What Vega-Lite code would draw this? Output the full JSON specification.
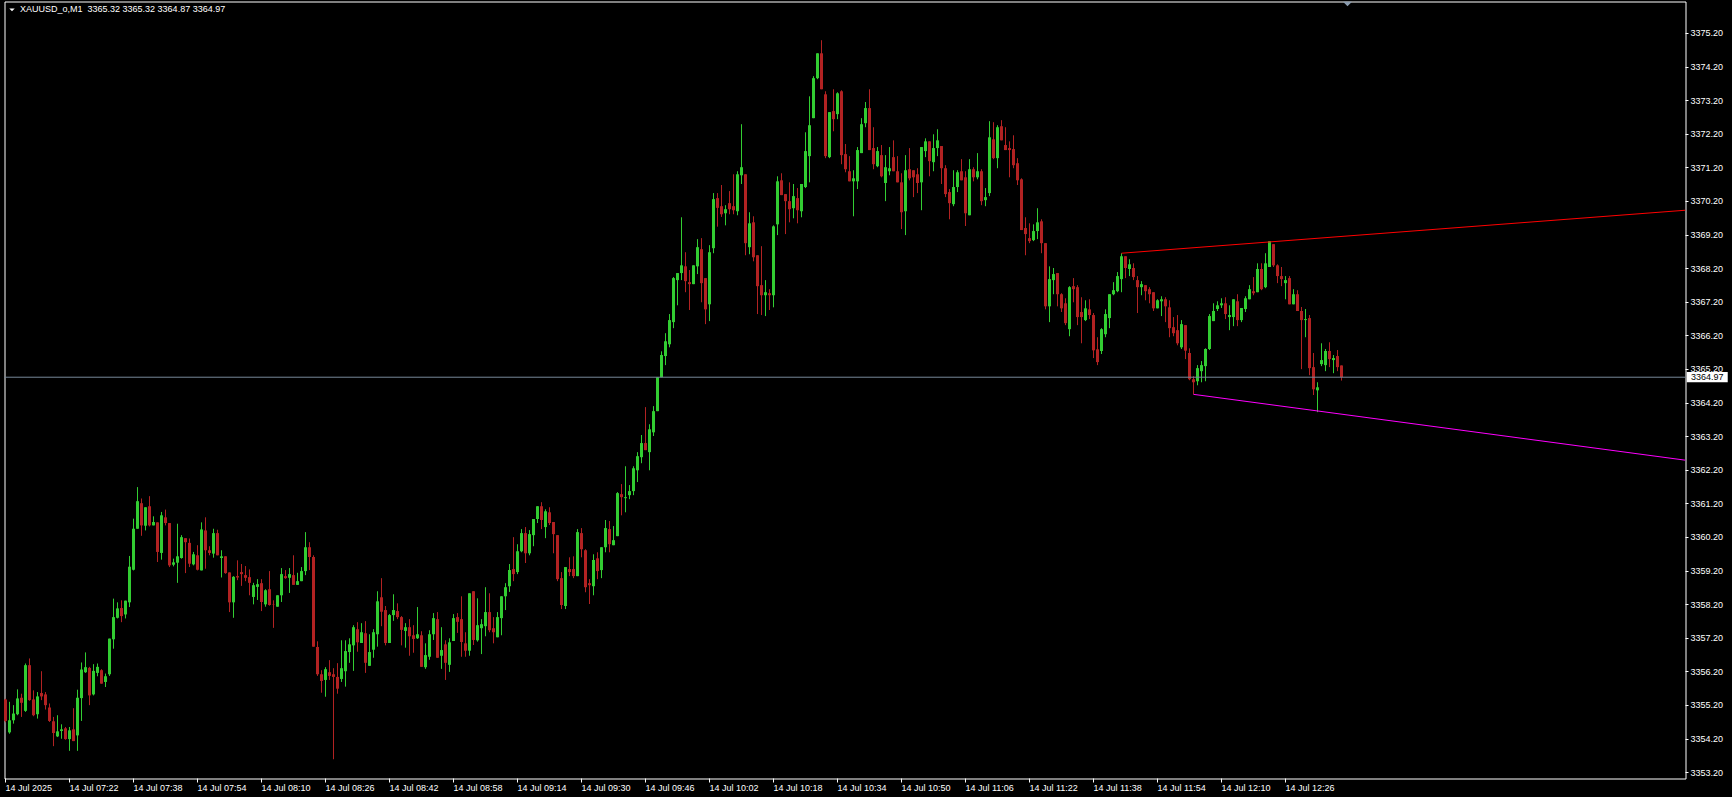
{
"$schema":"https://vega.github.io/schema/vega-lite/v6.json",
"width":1681,"height":777,
"autosize":{"type":"none"},
"padding":{"left":4.5,"top":1.5,"right":46.5,"bottom":18.5},
"background":"#000000",
"config":{
 "view":{"stroke":"#FFFFFF","strokeWidth":1},
 "scale":{"continuousPadding":0},
 "axis":{"labelOverlap":false,"domain":false,"grid":false,"translate":0,"tickColor":"#FFFFFF","tickWidth":1,"labelColor":"#FFFFFF","labelFont":"Liberation Sans","labelFontSize":9,"labelFlush":false,"labelBound":false,"labelSeparation":0},
 "axisX":{"tickSize":4,"labelAlign":"left","labelBaseline":"top","labelPadding":1},
 "axisY":{"tickSize":3,"labelAlign":"left","labelBaseline":"middle","labelPadding":2}
},
"datasets":{
"candles":[
{"m":6,"o":3355.38,"h":3355.40,"l":3354.70,"c":3354.74},
{"m":7,"o":3354.40,"h":3355.31,"l":3354.36,"c":3354.76},
{"m":8,"o":3354.76,"h":3355.21,"l":3354.66,"c":3354.96},
{"m":9,"o":3354.94,"h":3355.68,"l":3354.91,"c":3355.41},
{"m":10,"o":3355.43,"h":3355.55,"l":3354.86,"c":3355.28},
{"m":11,"o":3355.04,"h":3356.45,"l":3355.01,"c":3356.40},
{"m":12,"o":3356.40,"h":3356.60,"l":3355.34,"c":3355.36},
{"m":13,"o":3355.38,"h":3355.65,"l":3354.88,"c":3354.91},
{"m":14,"o":3354.94,"h":3355.60,"l":3354.81,"c":3355.47},
{"m":15,"o":3355.57,"h":3356.22,"l":3355.36,"c":3355.47},
{"m":16,"o":3355.53,"h":3355.60,"l":3355.08,"c":3355.21},
{"m":17,"o":3355.14,"h":3355.26,"l":3354.71,"c":3354.74},
{"m":18,"o":3354.73,"h":3354.86,"l":3353.99,"c":3354.38},
{"m":19,"o":3354.28,"h":3354.91,"l":3354.26,"c":3354.43},
{"m":20,"o":3354.44,"h":3354.64,"l":3354.21,"c":3354.49},
{"m":21,"o":3354.52,"h":3354.56,"l":3354.18,"c":3354.20},
{"m":22,"o":3354.20,"h":3354.56,"l":3353.85,"c":3354.46},
{"m":23,"o":3354.49,"h":3355.12,"l":3354.14,"c":3354.14},
{"m":24,"o":3354.31,"h":3355.67,"l":3353.85,"c":3355.43},
{"m":25,"o":3355.42,"h":3356.48,"l":3354.74,"c":3356.27},
{"m":26,"o":3356.19,"h":3356.78,"l":3356.17,"c":3356.34},
{"m":27,"o":3356.32,"h":3356.35,"l":3355.21,"c":3355.50},
{"m":28,"o":3355.53,"h":3356.43,"l":3355.50,"c":3356.23},
{"m":29,"o":3356.17,"h":3356.45,"l":3356.07,"c":3356.35},
{"m":30,"o":3356.25,"h":3356.28,"l":3355.85,"c":3355.85},
{"m":31,"o":3355.90,"h":3356.15,"l":3355.75,"c":3356.07},
{"m":32,"o":3356.13,"h":3357.19,"l":3356.08,"c":3357.19},
{"m":33,"o":3357.17,"h":3358.38,"l":3356.89,"c":3357.83},
{"m":34,"o":3357.81,"h":3358.27,"l":3357.79,"c":3358.09},
{"m":35,"o":3358.10,"h":3358.33,"l":3357.68,"c":3357.86},
{"m":36,"o":3357.91,"h":3358.32,"l":3357.79,"c":3358.32},
{"m":37,"o":3358.27,"h":3359.65,"l":3358.13,"c":3359.33},
{"m":38,"o":3359.24,"h":3360.76,"l":3359.22,"c":3360.46},
{"m":39,"o":3360.46,"h":3361.70,"l":3360.46,"c":3361.28},
{"m":40,"o":3361.22,"h":3361.36,"l":3360.25,"c":3360.56},
{"m":41,"o":3360.55,"h":3361.10,"l":3360.41,"c":3361.10},
{"m":42,"o":3361.13,"h":3361.43,"l":3360.53,"c":3360.56},
{"m":43,"o":3360.56,"h":3360.83,"l":3360.56,"c":3360.66},
{"m":44,"o":3360.65,"h":3360.65,"l":3359.47,"c":3359.77},
{"m":45,"o":3359.74,"h":3360.96,"l":3359.54,"c":3360.86},
{"m":46,"o":3360.80,"h":3361.03,"l":3360.56,"c":3360.63},
{"m":47,"o":3360.63,"h":3360.63,"l":3359.32,"c":3359.37},
{"m":48,"o":3359.39,"h":3359.57,"l":3359.34,"c":3359.46},
{"m":49,"o":3359.45,"h":3360.61,"l":3358.85,"c":3359.64},
{"m":50,"o":3359.59,"h":3360.27,"l":3359.57,"c":3360.21},
{"m":51,"o":3360.18,"h":3360.18,"l":3359.14,"c":3360.06},
{"m":52,"o":3360.04,"h":3360.17,"l":3359.32,"c":3359.42},
{"m":53,"o":3359.40,"h":3359.77,"l":3359.37,"c":3359.70},
{"m":54,"o":3359.67,"h":3359.97,"l":3359.22,"c":3359.24},
{"m":55,"o":3359.22,"h":3360.65,"l":3359.22,"c":3360.44},
{"m":56,"o":3360.41,"h":3360.80,"l":3359.27,"c":3359.82},
{"m":57,"o":3359.82,"h":3359.94,"l":3359.67,"c":3359.74},
{"m":58,"o":3359.72,"h":3360.46,"l":3359.60,"c":3360.33},
{"m":59,"o":3360.33,"h":3360.43,"l":3359.67,"c":3359.67},
{"m":60,"o":3359.59,"h":3359.82,"l":3359.01,"c":3359.64},
{"m":61,"o":3359.64,"h":3359.64,"l":3359.12,"c":3359.14},
{"m":62,"o":3359.16,"h":3359.16,"l":3357.98,"c":3358.27},
{"m":63,"o":3358.27,"h":3359.05,"l":3357.81,"c":3359.03},
{"m":64,"o":3359.05,"h":3359.52,"l":3358.93,"c":3359.01},
{"m":65,"o":3359.17,"h":3359.41,"l":3358.76,"c":3359.11},
{"m":66,"o":3359.08,"h":3359.35,"l":3358.90,"c":3359.00},
{"m":67,"o":3359.02,"h":3359.25,"l":3358.48,"c":3358.85},
{"m":68,"o":3358.43,"h":3358.85,"l":3358.21,"c":3358.78},
{"m":69,"o":3358.73,"h":3358.96,"l":3358.34,"c":3358.81},
{"m":70,"o":3358.84,"h":3358.96,"l":3358.01,"c":3358.28},
{"m":71,"o":3358.21,"h":3358.66,"l":3358.14,"c":3358.63},
{"m":72,"o":3358.66,"h":3359.20,"l":3358.17,"c":3358.19},
{"m":73,"o":3358.21,"h":3358.33,"l":3357.51,"c":3358.20},
{"m":74,"o":3358.14,"h":3358.48,"l":3358.14,"c":3358.48},
{"m":75,"o":3358.48,"h":3359.29,"l":3358.28,"c":3359.11},
{"m":76,"o":3359.05,"h":3359.23,"l":3358.97,"c":3358.99},
{"m":77,"o":3359.00,"h":3359.29,"l":3358.55,"c":3359.11},
{"m":78,"o":3359.08,"h":3359.67,"l":3358.79,"c":3358.79},
{"m":79,"o":3358.79,"h":3359.15,"l":3358.79,"c":3358.90},
{"m":80,"o":3358.90,"h":3359.32,"l":3358.90,"c":3359.20},
{"m":81,"o":3359.20,"h":3360.36,"l":3359.08,"c":3359.91},
{"m":82,"o":3359.91,"h":3360.06,"l":3359.23,"c":3359.62},
{"m":83,"o":3359.62,"h":3359.67,"l":3356.95,"c":3356.95},
{"m":84,"o":3356.94,"h":3357.11,"l":3356.08,"c":3356.13},
{"m":85,"o":3356.13,"h":3356.25,"l":3355.58,"c":3355.93},
{"m":86,"o":3355.96,"h":3356.34,"l":3355.46,"c":3356.28},
{"m":87,"o":3356.19,"h":3356.55,"l":3355.96,"c":3356.08},
{"m":88,"o":3356.13,"h":3356.31,"l":3353.60,"c":3356.05},
{"m":89,"o":3356.05,"h":3356.46,"l":3355.55,"c":3355.70},
{"m":90,"o":3355.99,"h":3357.14,"l":3355.90,"c":3356.31},
{"m":91,"o":3356.22,"h":3357.14,"l":3355.76,"c":3356.82},
{"m":92,"o":3356.79,"h":3357.20,"l":3356.47,"c":3357.02},
{"m":93,"o":3356.99,"h":3357.59,"l":3356.23,"c":3357.53},
{"m":94,"o":3357.47,"h":3357.68,"l":3356.80,"c":3357.08},
{"m":95,"o":3357.06,"h":3357.65,"l":3357.06,"c":3357.38},
{"m":96,"o":3357.35,"h":3357.71,"l":3356.17,"c":3356.47},
{"m":97,"o":3356.38,"h":3357.32,"l":3356.38,"c":3356.79},
{"m":98,"o":3356.86,"h":3357.47,"l":3356.62,"c":3357.38},
{"m":99,"o":3357.32,"h":3358.60,"l":3356.95,"c":3358.30},
{"m":100,"o":3358.42,"h":3358.99,"l":3357.56,"c":3357.99},
{"m":101,"o":3358.04,"h":3358.16,"l":3356.99,"c":3357.06},
{"m":102,"o":3357.06,"h":3357.92,"l":3357.06,"c":3357.89},
{"m":103,"o":3357.89,"h":3358.51,"l":3357.72,"c":3358.04},
{"m":104,"o":3358.01,"h":3358.24,"l":3357.77,"c":3357.83},
{"m":105,"o":3357.83,"h":3357.86,"l":3356.99,"c":3357.45},
{"m":106,"o":3357.42,"h":3357.65,"l":3356.92,"c":3357.53},
{"m":107,"o":3357.53,"h":3357.77,"l":3356.68,"c":3357.26},
{"m":108,"o":3357.29,"h":3357.59,"l":3356.77,"c":3357.18},
{"m":109,"o":3357.20,"h":3358.13,"l":3357.18,"c":3357.32},
{"m":110,"o":3357.29,"h":3357.41,"l":3356.35,"c":3356.35},
{"m":111,"o":3356.34,"h":3357.05,"l":3356.29,"c":3356.70},
{"m":112,"o":3356.65,"h":3357.44,"l":3356.56,"c":3357.32},
{"m":113,"o":3357.32,"h":3357.95,"l":3357.15,"c":3357.80},
{"m":114,"o":3357.77,"h":3357.98,"l":3356.62,"c":3356.62},
{"m":115,"o":3356.68,"h":3357.53,"l":3356.29,"c":3356.85},
{"m":116,"o":3357.02,"h":3357.14,"l":3355.96,"c":3356.47},
{"m":117,"o":3356.41,"h":3357.20,"l":3356.20,"c":3357.08},
{"m":118,"o":3357.12,"h":3357.92,"l":3357.12,"c":3357.80},
{"m":119,"o":3357.83,"h":3357.95,"l":3357.36,"c":3357.69},
{"m":120,"o":3357.77,"h":3358.45,"l":3356.65,"c":3357.09},
{"m":121,"o":3357.05,"h":3357.38,"l":3356.65,"c":3356.83},
{"m":122,"o":3356.83,"h":3358.54,"l":3356.68,"c":3358.54},
{"m":123,"o":3358.60,"h":3358.60,"l":3357.00,"c":3357.15},
{"m":124,"o":3357.14,"h":3358.39,"l":3357.10,"c":3357.59},
{"m":125,"o":3357.50,"h":3357.77,"l":3356.73,"c":3357.62},
{"m":126,"o":3357.56,"h":3358.72,"l":3357.26,"c":3357.98},
{"m":127,"o":3357.98,"h":3358.54,"l":3357.38,"c":3357.44},
{"m":128,"o":3357.50,"h":3357.83,"l":3357.05,"c":3357.38},
{"m":129,"o":3357.23,"h":3357.98,"l":3357.23,"c":3357.83},
{"m":130,"o":3357.80,"h":3358.45,"l":3357.29,"c":3358.45},
{"m":131,"o":3358.45,"h":3358.84,"l":3358.04,"c":3358.72},
{"m":132,"o":3358.75,"h":3359.41,"l":3358.58,"c":3359.23},
{"m":133,"o":3359.26,"h":3360.21,"l":3358.90,"c":3359.11},
{"m":134,"o":3359.17,"h":3360.00,"l":3359.11,"c":3359.79},
{"m":135,"o":3359.79,"h":3360.45,"l":3359.76,"c":3360.33},
{"m":136,"o":3360.33,"h":3360.51,"l":3359.44,"c":3359.73},
{"m":137,"o":3359.73,"h":3360.42,"l":3359.67,"c":3360.30},
{"m":138,"o":3360.27,"h":3360.75,"l":3359.94,"c":3360.75},
{"m":139,"o":3360.75,"h":3361.13,"l":3360.63,"c":3361.13},
{"m":140,"o":3361.13,"h":3361.25,"l":3360.45,"c":3360.72},
{"m":141,"o":3360.51,"h":3361.04,"l":3360.18,"c":3360.98},
{"m":142,"o":3360.95,"h":3361.10,"l":3360.57,"c":3360.63},
{"m":143,"o":3360.66,"h":3360.66,"l":3359.73,"c":3360.30},
{"m":144,"o":3360.27,"h":3360.27,"l":3358.90,"c":3358.96},
{"m":145,"o":3358.99,"h":3359.17,"l":3358.07,"c":3358.19},
{"m":146,"o":3358.16,"h":3359.32,"l":3358.07,"c":3359.32},
{"m":147,"o":3359.26,"h":3359.61,"l":3359.05,"c":3359.17},
{"m":148,"o":3359.26,"h":3359.64,"l":3358.99,"c":3359.05},
{"m":149,"o":3359.05,"h":3360.45,"l":3359.05,"c":3360.36},
{"m":150,"o":3360.33,"h":3360.48,"l":3359.61,"c":3359.85},
{"m":151,"o":3359.82,"h":3359.85,"l":3358.57,"c":3358.72},
{"m":152,"o":3358.84,"h":3358.96,"l":3358.22,"c":3358.78},
{"m":153,"o":3358.75,"h":3359.70,"l":3358.48,"c":3359.53},
{"m":154,"o":3359.58,"h":3359.76,"l":3358.96,"c":3359.20},
{"m":155,"o":3359.23,"h":3359.91,"l":3358.99,"c":3359.91},
{"m":156,"o":3359.91,"h":3360.72,"l":3359.76,"c":3360.48},
{"m":157,"o":3360.45,"h":3360.69,"l":3359.76,"c":3360.00},
{"m":158,"o":3359.97,"h":3360.54,"l":3359.97,"c":3360.12},
{"m":159,"o":3360.24,"h":3361.55,"l":3360.24,"c":3361.52},
{"m":160,"o":3361.49,"h":3361.79,"l":3360.86,"c":3361.40},
{"m":161,"o":3361.37,"h":3362.32,"l":3360.95,"c":3361.40},
{"m":162,"o":3361.46,"h":3361.76,"l":3361.34,"c":3361.58},
{"m":163,"o":3361.58,"h":3362.32,"l":3361.46,"c":3362.26},
{"m":164,"o":3362.20,"h":3362.74,"l":3361.85,"c":3362.62},
{"m":165,"o":3362.59,"h":3363.25,"l":3362.41,"c":3363.01},
{"m":166,"o":3363.01,"h":3364.08,"l":3362.80,"c":3362.80},
{"m":167,"o":3362.74,"h":3363.57,"l":3362.20,"c":3363.42},
{"m":168,"o":3363.33,"h":3364.11,"l":3363.22,"c":3363.96},
{"m":169,"o":3363.96,"h":3364.97,"l":3363.96,"c":3364.97},
{"m":170,"o":3364.97,"h":3365.74,"l":3364.97,"c":3365.63},
{"m":171,"o":3365.60,"h":3366.28,"l":3365.33,"c":3366.04},
{"m":172,"o":3365.95,"h":3366.85,"l":3365.86,"c":3366.67},
{"m":173,"o":3366.61,"h":3367.95,"l":3366.43,"c":3367.92},
{"m":174,"o":3367.86,"h":3368.07,"l":3367.11,"c":3368.07},
{"m":175,"o":3368.07,"h":3369.73,"l":3367.86,"c":3368.30},
{"m":176,"o":3368.27,"h":3368.69,"l":3367.50,"c":3367.83},
{"m":177,"o":3367.80,"h":3368.16,"l":3366.97,"c":3367.74},
{"m":178,"o":3367.74,"h":3368.30,"l":3367.74,"c":3368.30},
{"m":179,"o":3368.27,"h":3369.08,"l":3368.04,"c":3368.84},
{"m":180,"o":3368.78,"h":3369.11,"l":3367.20,"c":3367.77},
{"m":181,"o":3367.92,"h":3367.92,"l":3366.55,"c":3366.99},
{"m":182,"o":3367.14,"h":3368.90,"l":3366.64,"c":3368.69},
{"m":183,"o":3368.81,"h":3370.45,"l":3368.66,"c":3370.27},
{"m":184,"o":3370.30,"h":3370.45,"l":3369.45,"c":3370.01},
{"m":185,"o":3370.06,"h":3370.69,"l":3369.74,"c":3369.82},
{"m":186,"o":3369.85,"h":3370.09,"l":3369.49,"c":3369.97},
{"m":187,"o":3370.15,"h":3370.51,"l":3369.82,"c":3369.97},
{"m":188,"o":3370.06,"h":3371.01,"l":3369.82,"c":3369.94},
{"m":189,"o":3369.91,"h":3371.10,"l":3369.79,"c":3371.01},
{"m":190,"o":3370.98,"h":3372.50,"l":3370.72,"c":3371.22},
{"m":191,"o":3371.01,"h":3371.01,"l":3368.60,"c":3368.96},
{"m":192,"o":3368.84,"h":3369.88,"l":3368.63,"c":3369.55},
{"m":193,"o":3369.58,"h":3369.76,"l":3368.42,"c":3368.54},
{"m":194,"o":3368.60,"h":3368.60,"l":3366.85,"c":3367.68},
{"m":195,"o":3367.71,"h":3368.87,"l":3366.82,"c":3367.41},
{"m":196,"o":3367.41,"h":3367.86,"l":3366.79,"c":3367.50},
{"m":197,"o":3367.47,"h":3367.59,"l":3366.97,"c":3367.41},
{"m":198,"o":3367.41,"h":3369.49,"l":3367.05,"c":3369.46},
{"m":199,"o":3369.52,"h":3370.95,"l":3369.20,"c":3370.80},
{"m":200,"o":3370.83,"h":3371.04,"l":3370.39,"c":3370.39},
{"m":201,"o":3370.42,"h":3370.42,"l":3369.23,"c":3370.21},
{"m":202,"o":3370.21,"h":3370.77,"l":3369.58,"c":3369.97},
{"m":203,"o":3370.00,"h":3370.72,"l":3369.70,"c":3370.36},
{"m":204,"o":3370.30,"h":3370.60,"l":3369.55,"c":3369.94},
{"m":205,"o":3369.91,"h":3370.72,"l":3369.73,"c":3370.72},
{"m":206,"o":3370.63,"h":3372.26,"l":3370.60,"c":3371.70},
{"m":207,"o":3371.55,"h":3373.33,"l":3370.77,"c":3372.47},
{"m":208,"o":3372.68,"h":3373.93,"l":3372.68,"c":3373.87},
{"m":209,"o":3373.87,"h":3374.61,"l":3373.84,"c":3374.61},
{"m":210,"o":3374.61,"h":3375.00,"l":3373.54,"c":3373.54},
{"m":211,"o":3373.39,"h":3373.48,"l":3371.49,"c":3371.55},
{"m":212,"o":3371.52,"h":3372.86,"l":3371.49,"c":3372.86},
{"m":213,"o":3372.89,"h":3373.54,"l":3372.29,"c":3372.65},
{"m":214,"o":3372.80,"h":3373.45,"l":3372.65,"c":3373.42},
{"m":215,"o":3373.48,"h":3373.51,"l":3371.31,"c":3371.58},
{"m":216,"o":3371.61,"h":3371.91,"l":3371.07,"c":3371.16},
{"m":217,"o":3371.10,"h":3371.55,"l":3370.80,"c":3370.80},
{"m":218,"o":3370.80,"h":3371.13,"l":3369.76,"c":3370.89},
{"m":219,"o":3370.80,"h":3371.82,"l":3370.57,"c":3371.73},
{"m":220,"o":3371.64,"h":3372.68,"l":3371.64,"c":3372.50},
{"m":221,"o":3372.53,"h":3373.16,"l":3372.41,"c":3372.98},
{"m":222,"o":3372.98,"h":3373.54,"l":3371.73,"c":3371.73},
{"m":223,"o":3371.79,"h":3372.41,"l":3371.16,"c":3371.31},
{"m":224,"o":3371.25,"h":3371.82,"l":3371.22,"c":3371.70},
{"m":225,"o":3371.58,"h":3371.88,"l":3370.92,"c":3370.95},
{"m":226,"o":3370.75,"h":3371.58,"l":3370.21,"c":3371.22},
{"m":227,"o":3371.10,"h":3371.82,"l":3370.98,"c":3371.19},
{"m":228,"o":3371.52,"h":3372.02,"l":3371.10,"c":3371.10},
{"m":229,"o":3371.10,"h":3371.55,"l":3370.77,"c":3370.77},
{"m":230,"o":3370.77,"h":3371.04,"l":3369.38,"c":3369.88},
{"m":231,"o":3369.91,"h":3371.58,"l":3369.20,"c":3371.13},
{"m":232,"o":3371.16,"h":3371.79,"l":3370.83,"c":3370.89},
{"m":233,"o":3371.13,"h":3371.13,"l":3370.33,"c":3370.92},
{"m":234,"o":3371.01,"h":3371.19,"l":3370.45,"c":3370.75},
{"m":235,"o":3370.77,"h":3371.82,"l":3369.94,"c":3371.82},
{"m":236,"o":3371.70,"h":3372.08,"l":3371.52,"c":3371.99},
{"m":237,"o":3371.99,"h":3371.99,"l":3370.95,"c":3371.40},
{"m":238,"o":3371.37,"h":3372.20,"l":3371.10,"c":3371.79},
{"m":239,"o":3371.79,"h":3372.35,"l":3371.55,"c":3372.02},
{"m":240,"o":3371.85,"h":3371.85,"l":3370.72,"c":3371.19},
{"m":241,"o":3371.19,"h":3371.28,"l":3370.33,"c":3370.42},
{"m":242,"o":3370.48,"h":3370.57,"l":3369.67,"c":3370.15},
{"m":243,"o":3370.12,"h":3371.13,"l":3370.06,"c":3370.63},
{"m":244,"o":3370.63,"h":3371.13,"l":3370.48,"c":3371.07},
{"m":245,"o":3371.10,"h":3371.46,"l":3370.83,"c":3370.83},
{"m":246,"o":3370.92,"h":3371.10,"l":3369.47,"c":3369.85},
{"m":247,"o":3369.79,"h":3371.46,"l":3369.79,"c":3371.16},
{"m":248,"o":3371.16,"h":3371.22,"l":3370.80,"c":3370.92},
{"m":249,"o":3370.92,"h":3371.64,"l":3370.86,"c":3371.10},
{"m":250,"o":3371.10,"h":3371.16,"l":3370.09,"c":3370.21},
{"m":251,"o":3370.24,"h":3370.60,"l":3370.06,"c":3370.33},
{"m":252,"o":3370.45,"h":3372.59,"l":3370.36,"c":3372.11},
{"m":253,"o":3372.05,"h":3372.56,"l":3371.46,"c":3371.49},
{"m":254,"o":3371.49,"h":3372.47,"l":3371.19,"c":3372.41},
{"m":255,"o":3372.44,"h":3372.62,"l":3372.02,"c":3372.02},
{"m":256,"o":3371.88,"h":3372.41,"l":3371.73,"c":3371.73},
{"m":257,"o":3371.79,"h":3371.99,"l":3370.92,"c":3371.73},
{"m":258,"o":3371.76,"h":3372.17,"l":3371.19,"c":3371.28},
{"m":259,"o":3371.34,"h":3371.49,"l":3370.69,"c":3370.83},
{"m":260,"o":3370.86,"h":3370.89,"l":3369.35,"c":3369.35},
{"m":261,"o":3369.41,"h":3369.73,"l":3368.60,"c":3369.23},
{"m":262,"o":3369.11,"h":3369.55,"l":3368.96,"c":3369.02},
{"m":263,"o":3369.05,"h":3369.52,"l":3369.02,"c":3369.32},
{"m":264,"o":3369.32,"h":3370.00,"l":3369.08,"c":3369.58},
{"m":265,"o":3369.61,"h":3369.67,"l":3368.66,"c":3368.96},
{"m":266,"o":3368.96,"h":3368.96,"l":3366.99,"c":3367.08},
{"m":267,"o":3367.08,"h":3368.27,"l":3366.61,"c":3367.89},
{"m":268,"o":3367.86,"h":3368.22,"l":3367.44,"c":3368.04},
{"m":269,"o":3368.07,"h":3368.07,"l":3367.08,"c":3367.44},
{"m":270,"o":3367.44,"h":3367.47,"l":3366.91,"c":3367.02},
{"m":271,"o":3367.17,"h":3367.32,"l":3366.52,"c":3366.58},
{"m":272,"o":3366.40,"h":3367.68,"l":3366.19,"c":3367.65},
{"m":273,"o":3367.68,"h":3367.92,"l":3367.20,"c":3367.59},
{"m":274,"o":3367.65,"h":3367.71,"l":3366.52,"c":3366.76},
{"m":275,"o":3366.91,"h":3367.35,"l":3365.98,"c":3366.76},
{"m":276,"o":3366.67,"h":3367.26,"l":3366.64,"c":3367.02},
{"m":277,"o":3366.99,"h":3367.29,"l":3366.70,"c":3366.82},
{"m":278,"o":3366.82,"h":3366.88,"l":3365.54,"c":3365.77},
{"m":279,"o":3365.80,"h":3366.16,"l":3365.33,"c":3365.42},
{"m":280,"o":3365.75,"h":3366.43,"l":3365.66,"c":3366.40},
{"m":281,"o":3366.25,"h":3366.99,"l":3366.16,"c":3366.85},
{"m":282,"o":3366.73,"h":3367.44,"l":3366.43,"c":3367.44},
{"m":283,"o":3367.44,"h":3367.80,"l":3367.41,"c":3367.56},
{"m":284,"o":3367.53,"h":3368.10,"l":3367.50,"c":3367.98},
{"m":285,"o":3367.89,"h":3368.66,"l":3367.50,"c":3368.57},
{"m":286,"o":3368.57,"h":3368.57,"l":3367.92,"c":3368.22},
{"m":287,"o":3368.19,"h":3368.48,"l":3367.98,"c":3368.33},
{"m":288,"o":3368.22,"h":3368.36,"l":3367.86,"c":3367.95},
{"m":289,"o":3367.86,"h":3367.98,"l":3366.88,"c":3367.65},
{"m":290,"o":3367.65,"h":3367.83,"l":3367.41,"c":3367.74},
{"m":291,"o":3367.71,"h":3367.71,"l":3367.26,"c":3367.53},
{"m":292,"o":3367.59,"h":3367.65,"l":3367.17,"c":3367.44},
{"m":293,"o":3367.50,"h":3367.50,"l":3366.94,"c":3367.02},
{"m":294,"o":3367.02,"h":3367.29,"l":3367.02,"c":3367.26},
{"m":295,"o":3367.23,"h":3367.38,"l":3366.79,"c":3367.29},
{"m":296,"o":3367.29,"h":3367.35,"l":3366.61,"c":3367.08},
{"m":297,"o":3367.05,"h":3367.26,"l":3366.16,"c":3366.43},
{"m":298,"o":3366.46,"h":3366.76,"l":3366.19,"c":3366.28},
{"m":299,"o":3366.37,"h":3366.82,"l":3365.92,"c":3365.98},
{"m":300,"o":3365.86,"h":3366.67,"l":3365.81,"c":3366.55},
{"m":301,"o":3366.52,"h":3366.52,"l":3365.51,"c":3365.76},
{"m":302,"o":3365.69,"h":3365.83,"l":3364.88,"c":3364.91},
{"m":303,"o":3364.91,"h":3365.00,"l":3364.46,"c":3364.82},
{"m":304,"o":3364.85,"h":3365.33,"l":3364.73,"c":3365.24},
{"m":305,"o":3365.15,"h":3365.45,"l":3364.82,"c":3365.33},
{"m":306,"o":3365.30,"h":3365.83,"l":3364.85,"c":3365.81},
{"m":307,"o":3365.81,"h":3366.85,"l":3365.78,"c":3366.79},
{"m":308,"o":3366.64,"h":3367.17,"l":3366.64,"c":3366.94},
{"m":309,"o":3367.00,"h":3367.23,"l":3366.94,"c":3367.11},
{"m":310,"o":3367.11,"h":3367.32,"l":3367.03,"c":3367.17},
{"m":311,"o":3367.17,"h":3367.35,"l":3366.70,"c":3366.85},
{"m":312,"o":3366.76,"h":3367.11,"l":3366.37,"c":3366.82},
{"m":313,"o":3366.76,"h":3367.29,"l":3366.49,"c":3367.29},
{"m":314,"o":3367.23,"h":3367.44,"l":3366.49,"c":3366.67},
{"m":315,"o":3366.67,"h":3367.03,"l":3366.61,"c":3367.03},
{"m":316,"o":3367.00,"h":3367.38,"l":3366.91,"c":3367.32},
{"m":317,"o":3367.29,"h":3367.71,"l":3367.29,"c":3367.59},
{"m":318,"o":3367.53,"h":3367.95,"l":3367.41,"c":3367.47},
{"m":319,"o":3367.50,"h":3368.36,"l":3367.50,"c":3368.19},
{"m":320,"o":3368.19,"h":3368.36,"l":3367.56,"c":3367.59},
{"m":321,"o":3367.65,"h":3368.66,"l":3367.62,"c":3368.36},
{"m":322,"o":3368.25,"h":3369.02,"l":3368.25,"c":3369.02},
{"m":323,"o":3368.93,"h":3368.93,"l":3368.25,"c":3368.30},
{"m":324,"o":3368.30,"h":3368.33,"l":3367.77,"c":3367.98},
{"m":325,"o":3367.98,"h":3368.25,"l":3367.68,"c":3367.89},
{"m":326,"o":3367.77,"h":3367.98,"l":3367.29,"c":3367.86},
{"m":327,"o":3367.92,"h":3367.98,"l":3367.14,"c":3367.14},
{"m":328,"o":3367.14,"h":3367.59,"l":3367.14,"c":3367.44},
{"m":329,"o":3367.44,"h":3367.56,"l":3366.94,"c":3366.94},
{"m":330,"o":3366.94,"h":3367.06,"l":3365.21,"c":3366.67},
{"m":331,"o":3366.67,"h":3367.00,"l":3366.16,"c":3366.70},
{"m":332,"o":3366.73,"h":3366.82,"l":3365.03,"c":3365.24},
{"m":333,"o":3365.27,"h":3365.69,"l":3364.44,"c":3364.61},
{"m":334,"o":3364.58,"h":3364.82,"l":3363.93,"c":3364.67},
{"m":335,"o":3365.36,"h":3365.98,"l":3365.30,"c":3365.48},
{"m":336,"o":3365.33,"h":3365.81,"l":3365.15,"c":3365.75},
{"m":337,"o":3365.75,"h":3366.01,"l":3365.27,"c":3365.51},
{"m":338,"o":3365.48,"h":3365.63,"l":3365.09,"c":3365.54},
{"m":339,"o":3365.60,"h":3365.78,"l":3365.15,"c":3365.27},
{"m":340,"o":3365.32,"h":3365.32,"l":3364.87,"c":3364.97}
],
"resistance":[{"m":285,"p":3368.66},{"m":426,"p":3369.94}],
"support":[{"m":303,"p":3364.46},{"m":426,"p":3362.50}],
"bid":[{"p":3364.97,"label":"3364.97","m":431.43}],
"header":[{"m":9.63,"p":3375.914,"label":"XAUUSD_o,M1\u00a0 3365.32 3365.32 3364.87 3364.97"}],
"arrow":[{"m":7.63,"p":3375.905}],
"shift":[{"m":341.5,"p":3376.08}]
},
"layer":[
{"data":{"name":"candles"},
 "mark":{"type":"rule","strokeWidth":1},
 "encoding":{
  "x":{"field":"m","type":"quantitative","scale":{"domain":[5.75,426],"nice":false,"zero":false,"padding":0},
   "axis":{"orient":"bottom","title":null,"values":[6,22,38,54,70,86,102,118,134,150,166,182,198,214,230,246,262,278,294,310,326],"labelExpr":"datum.value == 6 ? '14 Jul 2025' : ('14 Jul ' + (floor(datum.value/60)+7 < 10 ? '0' : '') + (floor(datum.value/60)+7) + ':' + (datum.value % 60 < 10 ? '0' : '') + (datum.value % 60))"}},
  "y":{"field":"l","type":"quantitative","scale":{"domain":[3353.027,3376.152],"nice":false,"zero":false,"padding":0},
   "axis":{"orient":"right","title":null,"format":".2f","values":[3353.2,3354.2,3355.2,3356.2,3357.2,3358.2,3359.2,3360.2,3361.2,3362.2,3363.2,3364.2,3365.2,3366.2,3367.2,3368.2,3369.2,3370.2,3371.2,3372.2,3373.2,3374.2,3375.2]}},
  "y2":{"field":"h"},
  "color":{"condition":{"test":"datum.c >= datum.o","value":"#32CD32"},"value":"#B22222"}
 }},
{"data":{"name":"candles"},
 "mark":{"type":"bar","width":3},
 "encoding":{
  "x":{"field":"m","type":"quantitative",
   "axis":{"orient":"bottom","title":null,"values":[6,22,38,54,70,86,102,118,134,150,166,182,198,214,230,246,262,278,294,310,326],"labelExpr":"datum.value == 6 ? '14 Jul 2025' : ('14 Jul ' + (floor(datum.value/60)+7 < 10 ? '0' : '') + (floor(datum.value/60)+7) + ':' + (datum.value % 60 < 10 ? '0' : '') + (datum.value % 60))"}},
  "y":{"field":"o","type":"quantitative",
   "axis":{"orient":"right","title":null,"format":".2f","values":[3353.2,3354.2,3355.2,3356.2,3357.2,3358.2,3359.2,3360.2,3361.2,3362.2,3363.2,3364.2,3365.2,3366.2,3367.2,3368.2,3369.2,3370.2,3371.2,3372.2,3373.2,3374.2,3375.2]}},
  "y2":{"field":"c"},
  "color":{"condition":{"test":"datum.c >= datum.o","value":"#32CD32"},"value":"#B22222"}
 }},
{"data":{"name":"bid"},
 "mark":{"type":"rule","color":"#778899","strokeWidth":1},
 "encoding":{"y":{"field":"p","type":"quantitative",
   "axis":{"orient":"right","title":null,"format":".2f","values":[3353.2,3354.2,3355.2,3356.2,3357.2,3358.2,3359.2,3360.2,3361.2,3362.2,3363.2,3364.2,3365.2,3366.2,3367.2,3368.2,3369.2,3370.2,3371.2,3372.2,3373.2,3374.2,3375.2]}}}},
{"data":{"name":"resistance"},
 "mark":{"type":"line","color":"#FF0000","strokeWidth":1,"clip":true},
 "encoding":{
  "x":{"field":"m","type":"quantitative",
   "axis":{"orient":"bottom","title":null,"values":[6,22,38,54,70,86,102,118,134,150,166,182,198,214,230,246,262,278,294,310,326],"labelExpr":"datum.value == 6 ? '14 Jul 2025' : ('14 Jul ' + (floor(datum.value/60)+7 < 10 ? '0' : '') + (floor(datum.value/60)+7) + ':' + (datum.value % 60 < 10 ? '0' : '') + (datum.value % 60))"}},
  "y":{"field":"p","type":"quantitative",
   "axis":{"orient":"right","title":null,"format":".2f","values":[3353.2,3354.2,3355.2,3356.2,3357.2,3358.2,3359.2,3360.2,3361.2,3362.2,3363.2,3364.2,3365.2,3366.2,3367.2,3368.2,3369.2,3370.2,3371.2,3372.2,3373.2,3374.2,3375.2]}}}},
{"data":{"name":"support"},
 "mark":{"type":"line","color":"#FF00FF","strokeWidth":1,"clip":true},
 "encoding":{
  "x":{"field":"m","type":"quantitative",
   "axis":{"orient":"bottom","title":null,"values":[6,22,38,54,70,86,102,118,134,150,166,182,198,214,230,246,262,278,294,310,326],"labelExpr":"datum.value == 6 ? '14 Jul 2025' : ('14 Jul ' + (floor(datum.value/60)+7 < 10 ? '0' : '') + (floor(datum.value/60)+7) + ':' + (datum.value % 60 < 10 ? '0' : '') + (datum.value % 60))"}},
  "y":{"field":"p","type":"quantitative",
   "axis":{"orient":"right","title":null,"format":".2f","values":[3353.2,3354.2,3355.2,3356.2,3357.2,3358.2,3359.2,3360.2,3361.2,3362.2,3363.2,3364.2,3365.2,3366.2,3367.2,3368.2,3369.2,3370.2,3371.2,3372.2,3373.2,3374.2,3375.2]}}}},
{"data":{"name":"bid"},
 "mark":{"type":"point","shape":"M-1,-0.25L1,-0.25L1,0.25L-1,0.25Z","size":1681,"filled":true,"color":"#FFFFFF","opacity":1},
 "encoding":{
  "x":{"field":"m","type":"quantitative",
   "axis":{"orient":"bottom","title":null,"values":[6,22,38,54,70,86,102,118,134,150,166,182,198,214,230,246,262,278,294,310,326],"labelExpr":"datum.value == 6 ? '14 Jul 2025' : ('14 Jul ' + (floor(datum.value/60)+7 < 10 ? '0' : '') + (floor(datum.value/60)+7) + ':' + (datum.value % 60 < 10 ? '0' : '') + (datum.value % 60))"}},
  "y":{"field":"p","type":"quantitative",
   "axis":{"orient":"right","title":null,"format":".2f","values":[3353.2,3354.2,3355.2,3356.2,3357.2,3358.2,3359.2,3360.2,3361.2,3362.2,3363.2,3364.2,3365.2,3366.2,3367.2,3368.2,3369.2,3370.2,3371.2,3372.2,3373.2,3374.2,3375.2]}}}},
{"data":{"name":"bid"},
 "mark":{"type":"text","align":"center","baseline":"middle","font":"Liberation Sans","fontSize":9,"color":"#000000"},
 "encoding":{
  "x":{"field":"m","type":"quantitative",
   "axis":{"orient":"bottom","title":null,"values":[6,22,38,54,70,86,102,118,134,150,166,182,198,214,230,246,262,278,294,310,326],"labelExpr":"datum.value == 6 ? '14 Jul 2025' : ('14 Jul ' + (floor(datum.value/60)+7 < 10 ? '0' : '') + (floor(datum.value/60)+7) + ':' + (datum.value % 60 < 10 ? '0' : '') + (datum.value % 60))"}},
  "y":{"field":"p","type":"quantitative",
   "axis":{"orient":"right","title":null,"format":".2f","values":[3353.2,3354.2,3355.2,3356.2,3357.2,3358.2,3359.2,3360.2,3361.2,3362.2,3363.2,3364.2,3365.2,3366.2,3367.2,3368.2,3369.2,3370.2,3371.2,3372.2,3373.2,3374.2,3375.2]}},
  "text":{"field":"label"}}},
{"data":{"name":"arrow"},
 "mark":{"type":"point","shape":"M-1,-0.5L1,-0.5L0,0.5Z","size":30,"filled":true,"color":"#FFFFFF","opacity":1},
 "encoding":{
  "x":{"field":"m","type":"quantitative",
   "axis":{"orient":"bottom","title":null,"values":[6,22,38,54,70,86,102,118,134,150,166,182,198,214,230,246,262,278,294,310,326],"labelExpr":"datum.value == 6 ? '14 Jul 2025' : ('14 Jul ' + (floor(datum.value/60)+7 < 10 ? '0' : '') + (floor(datum.value/60)+7) + ':' + (datum.value % 60 < 10 ? '0' : '') + (datum.value % 60))"}},
  "y":{"field":"p","type":"quantitative",
   "axis":{"orient":"right","title":null,"format":".2f","values":[3353.2,3354.2,3355.2,3356.2,3357.2,3358.2,3359.2,3360.2,3361.2,3362.2,3363.2,3364.2,3365.2,3366.2,3367.2,3368.2,3369.2,3370.2,3371.2,3372.2,3373.2,3374.2,3375.2]}}}},
{"data":{"name":"header"},
 "mark":{"type":"text","align":"left","baseline":"middle","font":"Liberation Sans","fontSize":9,"color":"#FFFFFF"},
 "encoding":{
  "x":{"field":"m","type":"quantitative",
   "axis":{"orient":"bottom","title":null,"values":[6,22,38,54,70,86,102,118,134,150,166,182,198,214,230,246,262,278,294,310,326],"labelExpr":"datum.value == 6 ? '14 Jul 2025' : ('14 Jul ' + (floor(datum.value/60)+7 < 10 ? '0' : '') + (floor(datum.value/60)+7) + ':' + (datum.value % 60 < 10 ? '0' : '') + (datum.value % 60))"}},
  "y":{"field":"p","type":"quantitative",
   "axis":{"orient":"right","title":null,"format":".2f","values":[3353.2,3354.2,3355.2,3356.2,3357.2,3358.2,3359.2,3360.2,3361.2,3362.2,3363.2,3364.2,3365.2,3366.2,3367.2,3368.2,3369.2,3370.2,3371.2,3372.2,3373.2,3374.2,3375.2]}},
  "text":{"field":"label"}}},
{"data":{"name":"shift"},
 "mark":{"type":"point","shape":"M-1,-0.5L1,-0.5L0,0.5Z","size":81,"filled":true,"color":"#8A9BAE","opacity":1},
 "encoding":{
  "x":{"field":"m","type":"quantitative",
   "axis":{"orient":"bottom","title":null,"values":[6,22,38,54,70,86,102,118,134,150,166,182,198,214,230,246,262,278,294,310,326],"labelExpr":"datum.value == 6 ? '14 Jul 2025' : ('14 Jul ' + (floor(datum.value/60)+7 < 10 ? '0' : '') + (floor(datum.value/60)+7) + ':' + (datum.value % 60 < 10 ? '0' : '') + (datum.value % 60))"}},
  "y":{"field":"p","type":"quantitative",
   "axis":{"orient":"right","title":null,"format":".2f","values":[3353.2,3354.2,3355.2,3356.2,3357.2,3358.2,3359.2,3360.2,3361.2,3362.2,3363.2,3364.2,3365.2,3366.2,3367.2,3368.2,3369.2,3370.2,3371.2,3372.2,3373.2,3374.2,3375.2]}}}}
]
}
